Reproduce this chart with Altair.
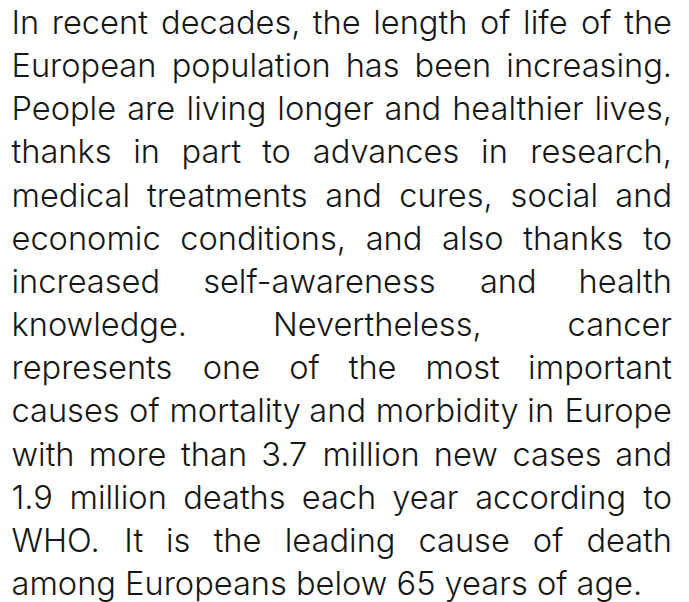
import glob
import os
import struct

import altair as alt
import pandas as pd

# ---------------- data: the paragraph, line by line ----------------
lines = [
    "In recent decades, the length of life of the",
    "European population has been increasing.",
    "People are living longer and healthier lives,",
    "thanks in part to advances in research,",
    "medical treatments and cures, social and",
    "economic conditions, and also thanks to",
    "increased self-awareness and health",
    "knowledge. Nevertheless, cancer",
    "represents one of the most important",
    "causes of mortality and morbidity in Europe",
    "with more than 3.7 million new cases and",
    "1.9 million deaths each year according to",
    "WHO. It is the leading cause of death",
    "among Europeans below 65 years of age.",
]
justified = [True] * 13 + [False]

# ---------------- layout / style ----------------
CHART_W = 673
CHART_H = 590
LEFT = 3.5          # text block left edge (chart px)
RIGHT = 664.0       # text block right edge (chart px)
LAST_LINE_W = 632.0 # natural width of the final (unjustified) line
FIRST_BASE = 25.0
LAST_BASE = 586.0
COLOR = "#161616"


def find_font_files():
    dirs = ["/usr/share/fonts", "/usr/local/share/fonts",
            os.path.expanduser("~/.fonts"), os.path.expanduser("~/.local/share/fonts")]
    out = []
    for d in dirs:
        out += glob.glob(os.path.join(d, "**", "*.*"), recursive=True)
    return [f for f in out if f.lower().endswith((".ttf", ".otf"))]


def sfnt_width_fn(path):
    data = open(path, "rb").read()
    num = struct.unpack(">H", data[4:6])[0]
    tables = {}
    for i in range(num):
        rec = 12 + 16 * i
        tag, _, off, _ln = struct.unpack(">4sIII", data[rec:rec + 16])
        tables[tag.decode("latin-1")] = off
    head = tables["head"]
    upem = struct.unpack(">H", data[head + 18:head + 20])[0]
    hhea = tables["hhea"]
    nhm = struct.unpack(">H", data[hhea + 34:hhea + 36])[0]
    hm = tables["hmtx"]
    adv = [struct.unpack(">H", data[hm + 4 * i:hm + 4 * i + 2])[0] for i in range(nhm)]
    cmap = tables["cmap"]
    nsub = struct.unpack(">H", data[cmap + 2:cmap + 4])[0]
    sub = None
    for i in range(nsub):
        pid, eid, off = struct.unpack(">HHI", data[cmap + 4 + 8 * i:cmap + 12 + 8 * i])
        fmt = struct.unpack(">H", data[cmap + off:cmap + off + 2])[0]
        if fmt == 4 and pid in (0, 3):
            sub = cmap + off
            break
    if sub is None:
        raise ValueError("no fmt4 cmap")
    segx2 = struct.unpack(">H", data[sub + 6:sub + 8])[0]
    seg = segx2 // 2
    ends = struct.unpack(">%dH" % seg, data[sub + 14:sub + 14 + segx2])
    so = sub + 16 + segx2
    starts = struct.unpack(">%dH" % seg, data[so:so + segx2])
    do = so + segx2
    deltas = struct.unpack(">%dh" % seg, data[do:do + segx2])
    ro = do + segx2
    ros = struct.unpack(">%dH" % seg, data[ro:ro + segx2])

    def gid(c):
        for i in range(seg):
            if ends[i] >= c:
                if starts[i] > c:
                    return 0
                if ros[i] == 0:
                    return (c + deltas[i]) & 0xFFFF
                addr = ro + 2 * i + ros[i] + 2 * (c - starts[i])
                g = struct.unpack(">H", data[addr:addr + 2])[0]
                return (g + deltas[i]) & 0xFFFF if g else 0
        return 0

    def width(s):
        tot = 0
        for ch in s:
            g = gid(ord(ch))
            tot += adv[g] if g < nhm else adv[-1]
        return tot / upem

    return width


def pick_font():
    files = find_font_files()
    prefs = [
        ("'Inter Light', Inter", lambda b: b.startswith("inter") and "light" in b and "extra" not in b and "italic" not in b),
        ("'Inter Light', Inter", lambda b: b.startswith("inter") and ("variable" in b or "[" in b) and "italic" not in b),
        ("'Inter Light', Inter", lambda b: b.startswith("inter") and "regular" in b),
        ("'Lato Light', Lato", lambda b: b.startswith("lato-light") and "italic" not in b),
        ("'Roboto Light', Roboto", lambda b: b.startswith("roboto-light") and "italic" not in b),
    ]
    for fam, test in prefs:
        for f in sorted(files):
            b = os.path.basename(f).lower()
            if test(b):
                try:
                    return fam, sfnt_width_fn(f)
                except Exception:
                    continue
    return "'Inter Light', Inter", (lambda s: 0.52 * len(s))


FONT, em_width = pick_font()
FONT_SIZE = LAST_LINE_W / em_width(lines[-1])

# ---------------- build word table (justified layout) ----------------
rows = []
for li, (text, just) in enumerate(zip(lines, justified)):
    if not just:
        rows.append({"line": li, "word": text, "x": LEFT, "side": "left"})
        continue
    words = text.split(" ")
    widths = [em_width(w) * FONT_SIZE for w in words]
    gap = (RIGHT - LEFT - sum(widths)) / (len(words) - 1)
    x = LEFT
    for wi, (w, wd) in enumerate(zip(words, widths)):
        if wi == len(words) - 1:
            rows.append({"line": li, "word": w, "x": RIGHT, "side": "right"})
        else:
            rows.append({"line": li, "word": w, "x": x, "side": "left"})
        x += wd + gap

df = pd.DataFrame(rows)

x_scale = alt.Scale(domain=[0, CHART_W], range=[0, CHART_W], nice=False, zero=False)
y_scale = alt.Scale(domain=[0, len(lines) - 1], range=[FIRST_BASE, LAST_BASE], nice=False, zero=False)

base = alt.Chart(df).encode(
    x=alt.X("x:Q", scale=x_scale, axis=None),
    y=alt.Y("line:Q", scale=y_scale, axis=None),
    text="word:N",
)

text_style = dict(font=FONT, fontSize=FONT_SIZE, fontWeight=300, color=COLOR, baseline="alphabetic")

left_words = base.transform_filter(alt.datum.side == "left").mark_text(align="left", **text_style)
right_words = base.transform_filter(alt.datum.side == "right").mark_text(align="right", **text_style)

chart = (
    alt.layer(left_words, right_words)
    .properties(width=CHART_W, height=CHART_H, padding=0, background="#ffffff")
    .configure_view(stroke=None)
)

chart.save("out.html", embed_options={"renderer": "svg", "actions": False})
